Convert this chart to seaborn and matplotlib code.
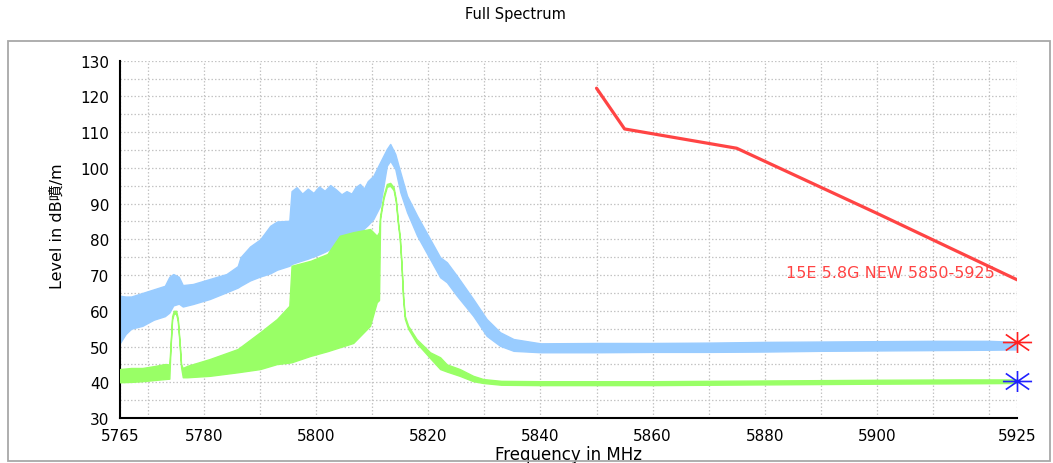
import matplotlib
matplotlib.use("Agg")
import matplotlib.pyplot as plt
from matplotlib.path import Path
from matplotlib.patches import Rectangle
import seaborn as sns

# --- Trace 1 (max hold, light blue): frequency and level envelope ---
blue_freq = [5765, 5766, 5767, 5769, 5771, 5773, 5773.8, 5774.5, 5775.5, 5776.2,
             5778, 5781, 5784, 5786, 5786.5, 5788.2, 5790, 5791.8, 5793, 5795.2,
             5795.6, 5796.5, 5797.5, 5798.5, 5799.5, 5800.5, 5801.5, 5802.5,
             5803.5, 5804.5, 5805.4, 5806.3, 5807.0, 5807.8, 5808.5, 5809.2,
             5810.2, 5811.4,
             5812.6, 5813.2, 5814.1, 5815, 5816.2, 5818, 5820.3, 5822.1, 5823.3,
             5825.1, 5828, 5830.4, 5832.8, 5835.2, 5840, 5850, 5860, 5870, 5880,
             5890, 5900, 5910, 5920, 5925]
blue_upper = [64.2, 64.0, 64.0, 65.0, 66.0, 67.0, 69.5, 70.3, 69.5, 67.2,
              67.5, 68.9, 70.3, 72.5, 75.0, 78.0, 80.0, 83.8, 85.0, 85.2,
              93.5, 94.6, 92.8, 94.2, 93.0, 94.8, 93.6, 95.2, 94.0, 92.6,
              93.5, 92.8, 94.6, 95.5, 94.2, 96.3,
              97.8, 101.6,
              105.3, 106.7, 103.9, 98.8, 92.2, 86.6, 80.1, 75.0, 73.6,
              69.8, 63.3, 57.7, 54.0, 52.1, 50.9, 51.0, 51.0, 51.1, 51.3,
              51.4, 51.5, 51.6, 51.6, 51.3]
blue_lower = [51.0, 53.5, 55.0, 55.8, 57.5, 58.5, 59.5, 61.5, 62.0, 61.2,
              61.9, 63.3, 65.2, 66.5, 67.0, 68.5, 69.6, 70.5, 71.5, 72.6,
              73.1, 73.6, 74.1, 74.6, 75.2, 75.8, 76.5, 77.3,
              78.0, 78.6, 79.0, 80.0, 81.0, 82.0, 83.0, 84.0,
              85.7, 89.4,
              100.6, 102.0, 99.7, 93.2, 87.6, 81.0, 74.5, 69.4, 68.0,
              64.2, 58.6, 53.0, 50.2, 48.8, 48.4, 48.4, 48.5, 48.5, 48.6,
              48.8, 48.9, 49.0, 49.1, 49.2]

# --- Trace 2 (green): frequency and level envelope ---
green_freq = [5765, 5767, 5769, 5771, 5773, 5773.8, 5774.0, 5774.3, 5774.6, 5775.0,
              5775.3, 5775.6, 5775.9, 5776.2, 5777, 5781, 5786, 5790, 5793, 5795.2,
              5795.6, 5799, 5802, 5804.2, 5806.6, 5809.6, 5810.8, 5811.2, 5811.4,
              5812.0, 5812.6, 5813.2, 5813.8, 5814.2, 5814.6, 5814.9, 5815.2, 5815.5,
              5815.8, 5816.4, 5817.9, 5820.3, 5822.1, 5823.3, 5825.6, 5828, 5829.8,
              5833, 5840, 5860, 5880, 5900, 5915, 5925]
green_upper = [43.7, 44.0, 44.0, 44.5, 45.1, 45.0, 50.0, 58.5, 60.0, 60.0,
               58.0, 52.0, 45.0, 44.0, 44.6, 46.5, 49.3, 54.0, 57.7, 61.4,
               72.6, 74.0, 75.9, 81.0, 82.0, 82.9, 81.0, 82.0, 86.6,
               92.2, 95.5, 95.8, 94.6, 91.3, 84.8, 81.0, 73.6, 64.2,
               58.6, 55.8, 52.1, 48.4, 47.0, 45.0, 43.7, 41.8, 40.9,
               40.4, 40.3, 40.3, 40.5, 40.7, 40.8, 40.8]
green_lower = [40.0, 40.1, 40.3, 40.6, 40.9, 41.0, 49.2, 57.7, 59.2, 59.2,
               57.2, 51.2, 44.2, 41.4, 41.4, 41.8, 42.8, 43.7, 45.1, 45.5,
               45.6, 47.4, 48.7, 49.8, 51.0, 55.8, 62.4, 63.0, 85.8,
               91.4, 94.7, 95.0, 93.8, 90.5, 84.0, 80.2, 72.8, 63.4,
               57.8, 55.0, 51.0, 46.8, 43.7, 43.0, 41.8, 40.3, 39.8,
               39.3, 39.2, 39.2, 39.4, 39.6, 39.7, 39.8]

# --- Limit line "15E 5.8G NEW 5850-5925" ---
limit_freq = [5850, 5855, 5875, 5900, 5925]
limit_level = [122.3, 110.9, 105.5, 87.3, 68.7]
limit_name = "15E 5.8G NEW 5850-5925"

# --- Markers at the end of each trace ---
marker_freq = [5925, 5925]
marker_level = [51.3, 40.3]
marker_colors = ["#FF2020", "#2020FF"]

# --- Axis ticks ---
x_major = [5765, 5780, 5800, 5820, 5840, 5860, 5880, 5900, 5925]
x_minor = [5770, 5790, 5810, 5830, 5850, 5870, 5890, 5910, 5920]
y_major = list(range(30, 131, 10))
y_minor = list(range(35, 130, 10))

sns.set_style("white")
plt.rcParams["font.family"] = ["DejaVu Sans", "Noto Sans CJK JP"]
plt.rcParams["text.color"] = "black"
plt.rcParams["axes.labelcolor"] = "black"
plt.rcParams["xtick.color"] = "black"
plt.rcParams["ytick.color"] = "black"

W, H = 1053, 464
fig = plt.figure(figsize=(W / 100, H / 100), dpi=100)
ax = fig.add_axes([120 / W, 45 / H, (1017 - 120) / W, (419 - 61.7) / H])

BLUE = "#99CCFF"
GREEN = "#99FF66"
RED = "#FF4444"

ax.fill_between(blue_freq, blue_lower, blue_upper, color=BLUE, lw=1.0,
                edgecolor=BLUE, zorder=2)
ax.fill_between(green_freq, green_lower, green_upper, color=GREEN, lw=1.0,
                edgecolor=GREEN, zorder=3)
sns.lineplot(x=limit_freq, y=limit_level, ax=ax, color=RED, lw=2.3,
             zorder=4, estimator=None, sort=False)

ax.text(5902.5, 70.8, limit_name, color=RED, fontsize=11.5, ha="center",
        va="center", zorder=5)

# asterisk marker: horizontal, vertical and two diagonal strokes
star = Path([(-1, 0), (1, 0), (0, -0.72), (0, 0.72),
             (-0.8, -0.55), (0.8, 0.55), (-0.8, 0.55), (0.8, -0.55)],
            [Path.MOVETO, Path.LINETO] * 4)
for fx, lv, c in zip(marker_freq, marker_level, marker_colors):
    ax.plot([fx], [lv], marker=star, markersize=21, markerfacecolor="none",
            markeredgecolor=c, markeredgewidth=1.2, linestyle="none",
            clip_on=False, zorder=6)

ax.set_xlim(5765, 5925)
ax.set_ylim(30, 130)
ax.set_xticks(x_major)
ax.set_xticks(x_minor, minor=True)
ax.set_yticks(y_major)
ax.set_yticks(y_minor, minor=True)

ax.grid(True, which="both", color="#C4C4C4", linestyle=(0, (1.2, 1.6)), lw=0.9,
        zorder=1)
ax.set_axisbelow(True)

for s in ["top", "right"]:
    ax.spines[s].set_visible(False)
for s in ["left", "bottom"]:
    ax.spines[s].set_color("black")
    ax.spines[s].set_linewidth(1.5)

ax.tick_params(axis="y", which="both", direction="inout", length=9.5,
               width=1.2, color="black", labelsize=11, pad=3)
ax.tick_params(axis="x", which="both", direction="inout", length=6,
               width=1.2, color="black", labelsize=11, pad=4)

ax.set_xlabel("Frequency in MHz", fontsize=12)
ax.xaxis.label.set_va("center")
ax.xaxis.set_label_coords(0.5, -(455 - 419) / (419 - 61.7))

ax.set_ylabel("Level in dB噴/m", fontsize=11.5)
ax.yaxis.label.set_va("center")
ax.yaxis.set_label_coords((57 - 120) / (1017 - 120), (419 - 226) / (419 - 61.7))

fig.text(515 / W, 1 - 15 / H, "Full Spectrum", fontsize=10.5, ha="center",
         va="center")

fig.patches.append(Rectangle((8 / W, 2 / H), (1050 - 8) / W, (462 - 42) / H,
                             transform=fig.transFigure, fill=False,
                             edgecolor="#A8A8A8", lw=1.3))

fig.savefig("out.png", dpi=100)
